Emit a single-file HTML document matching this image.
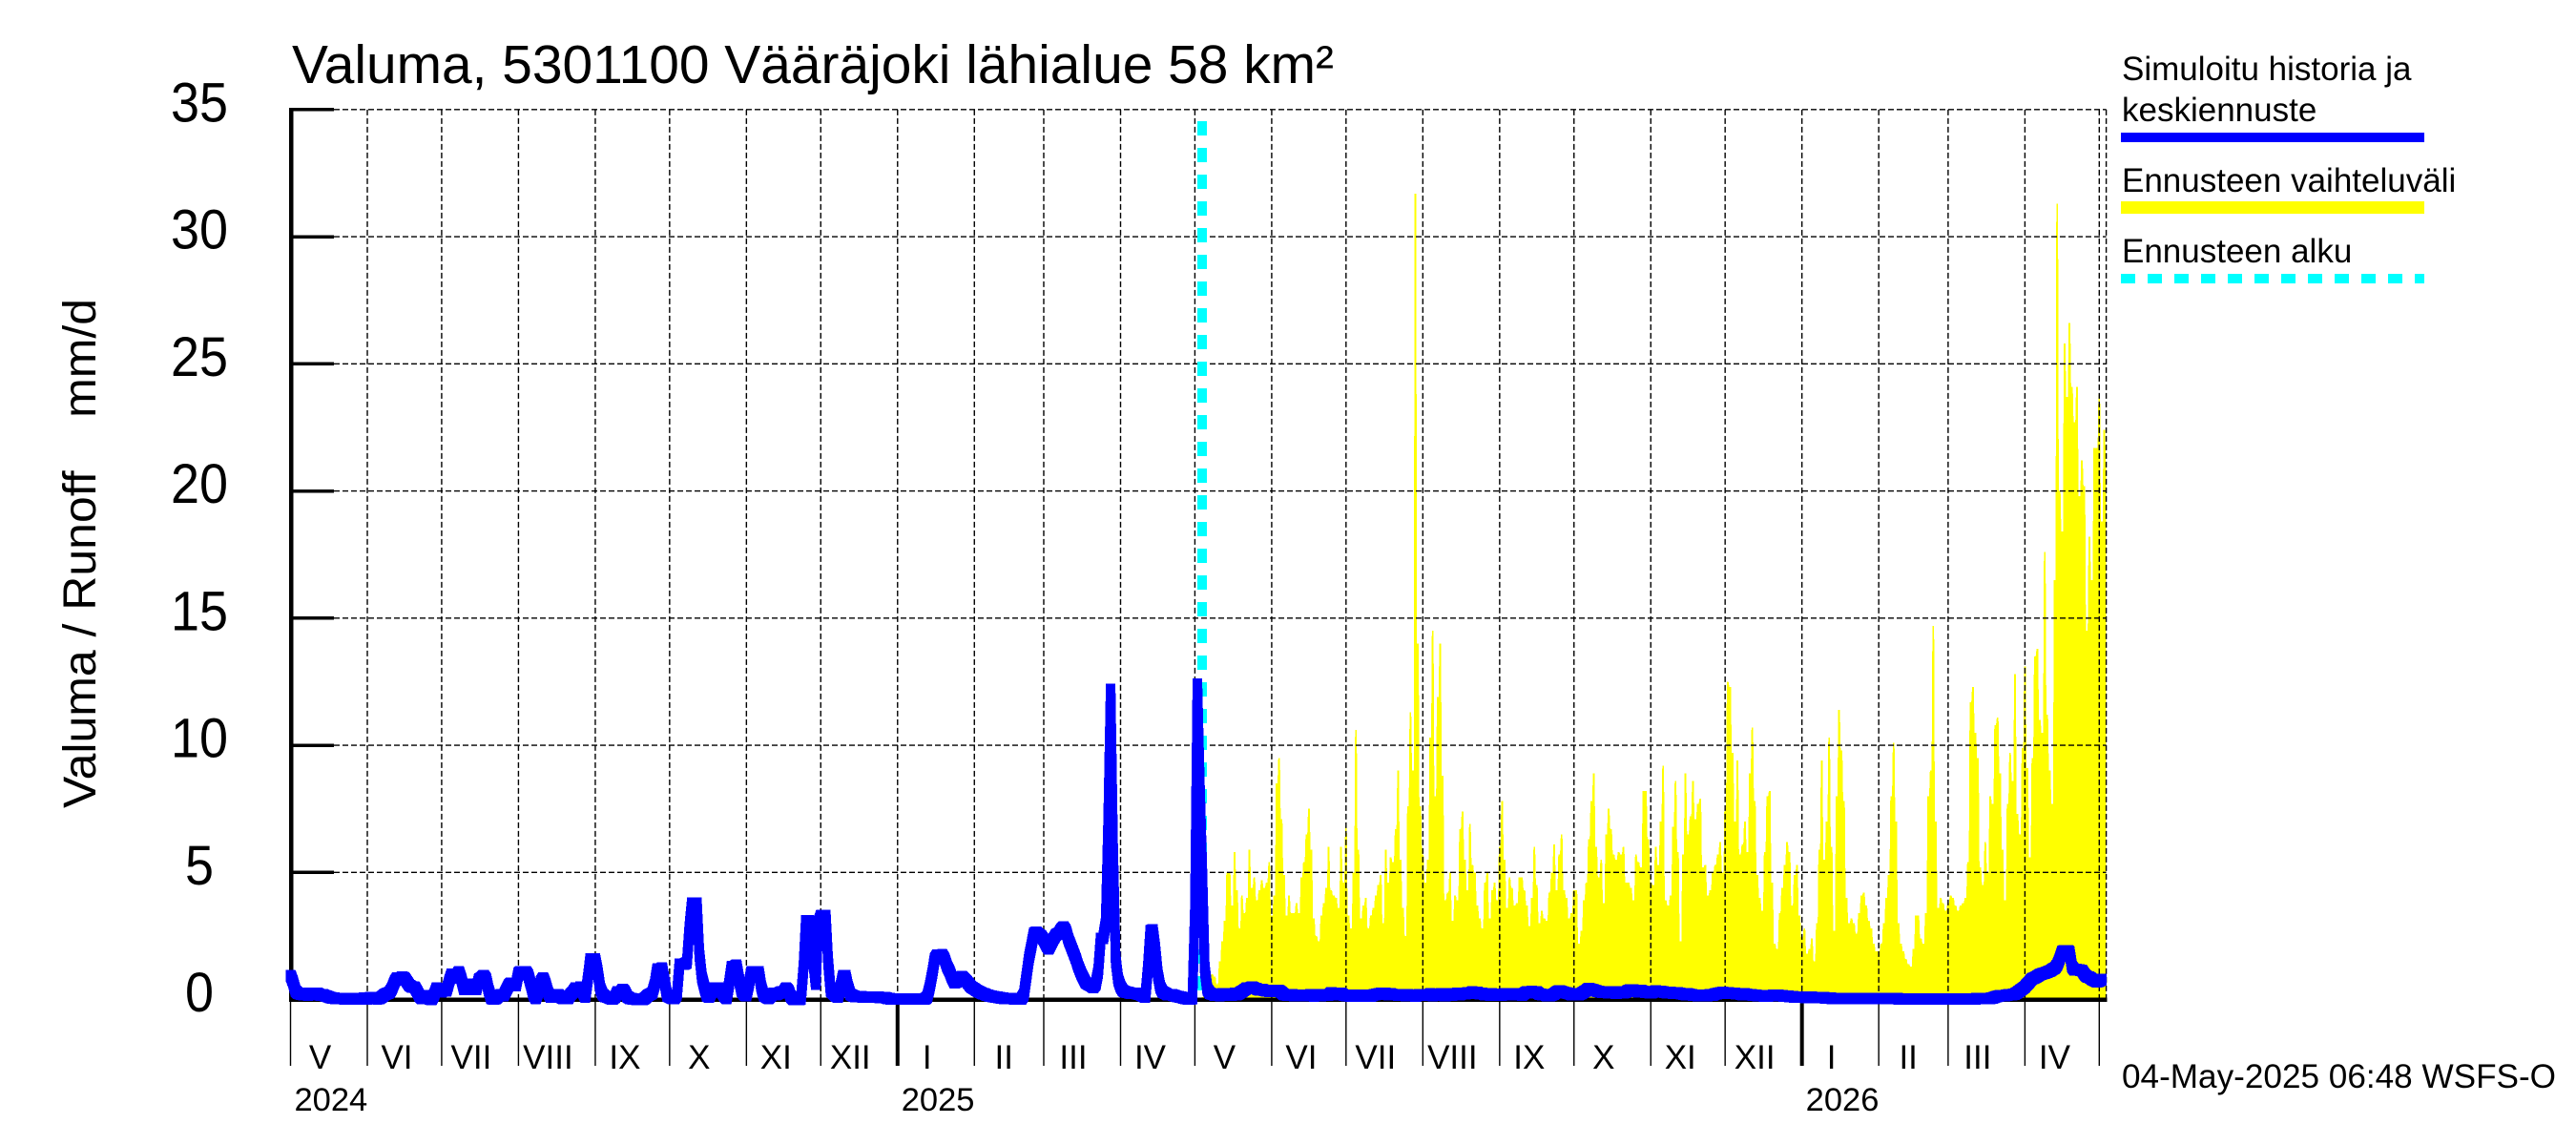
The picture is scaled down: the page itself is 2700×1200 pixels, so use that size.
<!DOCTYPE html>
<html lang="fi">
<head>
<meta charset="utf-8">
<title>Valuma, 5301100 Vääräjoki lähialue 58 km²</title>
<style>
html,body{margin:0;padding:0;background:#fff;}
svg{display:block;}
text{font-family:"Liberation Sans",Arial,sans-serif;fill:#000;white-space:pre;}
</style>
</head>
<body>
<svg id="chart" xmlns="http://www.w3.org/2000/svg" width="2700" height="1200" viewBox="0 0 2700 1200">
  <rect x="0" y="0" width="2700" height="1200" fill="#fff"/>
  <g id="yellow-layer"></g>
  <g id="grid-layer"></g>
  <g id="axis-layer"></g>
  <g id="cyan-layer"></g>
  <g id="blue-layer"></g>

  <text x="306" y="87" font-size="56.5" textLength="1092" lengthAdjust="spacingAndGlyphs">Valuma, 5301100 Vääräjoki lähialue 58 km²</text>
  <text transform="translate(100,847) rotate(-90)" x="0" y="0" font-size="48" textLength="534" lengthAdjust="spacingAndGlyphs">Valuma / Runoff    mm/d</text>

  <g>
    <text x="2224" y="84" font-size="35">Simuloitu historia ja</text>
    <text x="2224" y="127" font-size="35">keskiennuste</text>
    <rect x="2223" y="139" width="318" height="10" fill="#0000ff"/>
    <text x="2224" y="201" font-size="35">Ennusteen vaihteluväli</text>
    <rect x="2223" y="211" width="318" height="13" fill="#ffff00"/>
    <text x="2224" y="275" font-size="35">Ennusteen alku</text>
    <line x1="2223" y1="292" x2="2541" y2="292" stroke="#00ffff" stroke-width="10" stroke-dasharray="15 13"/>
  </g>

  <text x="2224" y="1140" font-size="35" textLength="455" lengthAdjust="spacingAndGlyphs">04-May-2025 06:48 WSFS-O</text>
</svg>

<script>
const yTickLabels = [0, 5, 10, 15, 20, 25, 30, 35];
const monthLabels = ["V","VI","VII","VIII","IX","X","XI","XII","I","II","III","IV","V","VI","VII","VIII","IX","X","XI","XII","I","II","III","IV"];
const monthLengths = [31,30,31,31,30,31,30,31,31,28,31,30,31,30,31,31,30,31,30,31,31,28,31,30];
const yearLabels = ["2024","2025","2026"];
const yearStartMonths = [0, 8, 20];
const forecastStartDay = 368;

// Simulated history, one value per day from 1 May 2024 (mm/d)
const historyRunoff = [
.95,.7,.35,.25,.22,.2,.24,.18,.22,.25,
.2,.24,.18,.2,.15,.12,.08,.06,.05,.05,
.04,.05,.02,.03,.02,.05,.02,.03,.05,.04,
.06,.03,.07,.05,.08,.03,.05,.12,.2,.24,
.28,.45,.7,.85,.82,.88,.85,.7,.55,.5,
.5,.35,.15,.05,.15,.12,.03,0,.2,.45,
.4,.3,.4,.35,.7,1.0,.85,.95,1.1,.8,
.4,.55,.6,.5,.4,.4,.8,.85,.95,.8,
.35,.05,.02,.05,.15,.2,.15,.35,.55,.65,
.65,.55,1.05,1.1,1.1,1.1,.95,.6,.2,.05,
.3,.7,.85,.6,.25,.1,.1,.2,.2,.1,
.05,.08,.05,.2,.3,.45,.3,.5,.3,.1,
.8,1.6,1.6,1.6,1.1,.45,.2,.12,.1,.05,
.02,.1,.3,.25,.4,.3,.1,.05,.03,.02,
0,.02,0,.05,.15,.2,.25,.6,1.2,1.15,
1.25,.7,.15,.1,.05,.05,.2,1.4,1.4,1.4,
1.45,2.8,3.8,3.8,3.8,1.8,.9,.5,.15,.1,
.3,.45,.35,.45,.3,.15,.05,.6,1.3,1.3,
1.35,.8,.35,.2,.15,.6,1.1,1.1,1.1,1.1,
.5,.15,.1,.05,.15,.25,.2,.25,.3,.3,
.45,.35,.1,0,0,0,.02,1.2,3.1,3.1,
3.05,1.5,.6,3.0,3.3,3.3,3.3,1.5,.35,.25,
.15,.1,.5,.95,.95,.5,.2,.15,.12,.12,
.12,.1,.1,.1,.1,.1,.1,.1,.08,.08,
.08,.05,.03,.02,.02,.02,.02,.02,.02,.02,
.02,.02,.02,.02,.02,.02,.02,.1,.5,1.0,
1.6,1.75,1.7,1.76,1.6,1.3,1.1,.85,.66,.7,
.85,.9,.8,.7,.58,.48,.42,.35,.3,.25,
.22,.18,.15,.13,.11,.1,.08,.06,.05,.05,
.04,.04,.03,.03,.03,.03,.2,.9,1.6,2.1,
2.6,2.65,2.55,2.5,2.35,2.15,2.0,2.2,2.4,2.55,
2.6,2.75,2.85,2.7,2.35,2.1,1.85,1.6,1.3,1.05,
.85,.66,.6,.55,.48,.6,1.1,2.4,2.4,3.0,
7,12.2,6,1.6,.8,.5,.35,.3,.28,.25,
.25,.25,.22,.2,.15,.1,1.2,2.7,2.75,2.0,
1.0,.5,.3,.25,.2,.2,.18,.15,.12,.1,
.08,.05,.03,.02,.05,3.5,12.4,8.4
];

// Mean forecast, one value per day from the forecast start (mm/d)
const forecastMean = [
5,1.2,.4,.25,.22,.18,.2,.16,.22,.2,
.17,.22,.18,.24,.2,.26,.32,.38,.45,.44,
.5,.45,.42,.38,.4,.36,.34,.33,.36,.32,
.36,.35,.28,.2,.18,.17,.2,.16,.18,.17,
.16,.18,.15,.17,.2,.14,.17,.2,.16,.18,
.2,.18,.26,.25,.22,.2,.24,.18,.16,.15,
.14,.17,.13,.16,.14,.17,.15,.18,.14,.18,
.2,.22,.24,.22,.24,.2,.22,.19,.2,.18,
.18,.2,.16,.19,.15,.18,.14,.17,.2,.19,
.2,.18,.22,.16,.2,.17,.22,.18,.15,.2,
.22,.18,.21,.25,.2,.24,.22,.27,.25,.3,
.26,.28,.22,.24,.2,.22,.18,.22,.2,.17,
.21,.18,.22,.2,.19,.22,.2,.2,.22,.18,
.25,.3,.28,.32,.26,.3,.22,.2,.2,.16,
.15,.18,.22,.3,.34,.32,.28,.26,.24,.2,
.22,.2,.2,.24,.3,.36,.44,.4,.38,.34,
.32,.3,.28,.3,.26,.28,.3,.24,.28,.3,
.26,.3,.36,.38,.38,.34,.3,.36,.32,.28,
.28,.26,.3,.34,.3,.32,.3,.28,.26,.28,
.25,.24,.26,.24,.22,.2,.22,.2,.18,.17,
.16,.15,.17,.18,.16,.2,.18,.22,.24,.26,
.28,.26,.27,.25,.24,.24,.23,.22,.2,.22,
.2,.2,.18,.18,.16,.15,.15,.14,.14,.15,
.16,.17,.17,.16,.15,.14,.14,.12,.12,.1,
.1,.09,.09,.09,.08,.08,.09,.08,.08,.08,
.07,.07,.06,.06,.05,.05,.05,.05,.05,.05,
.05,.04,.04,.04,.04,.04,.04,.04,.04,.04,
.04,.04,.04,.04,.04,.04,.04,.04,.04,.04,
.04,.03,.03,.03,.03,.03,.03,.03,.03,.03,
.03,.03,.02,.02,.02,.02,.02,.02,.03,.03,
.03,.03,.03,.03,.02,.02,.02,.02,.03,.03,
.03,.03,.03,.04,.04,.04,.05,.05,.05,.06,
.1,.13,.15,.15,.16,.18,.2,.2,.22,.28,
.36,.42,.5,.62,.72,.82,.86,.92,.98,1.02,
1.04,1.08,1.12,1.18,1.24,1.35,1.6,1.9,1.92,1.92,
1.9,1.3,1.16,1.18,1.16,1.15,1.0,.9,.88,.8,
.75,.7,.72,.8
];

// Upper edge of the forecast range, one value per day from the forecast start (mm/d)
const forecastUpper = [
.1,.3,.6,.9,1.0,.9,.6,1.5,2.3,3.1,
5.0,5.0,3.7,5.8,4.3,2.8,4.1,3.4,4.0,5.9,
4.4,4.8,3.9,4.3,4.7,4.4,4.6,5.4,3.3,4.1,
8.5,9.5,7.1,4.9,3.3,4.1,3.4,3.4,3.8,3.4,
4.8,5.4,6.5,7.5,5.9,3.2,2.5,2.3,3.3,3.8,
4.4,6.0,4.3,4.1,4.0,3.6,6.0,4.6,6.8,3.3,
2.8,5.0,10.6,5.9,3.2,3.7,4.0,2.8,3.3,3.6,
4.1,4.5,4.9,3.0,5.9,4.6,5.6,5.4,6.7,9.0,
5.5,3.6,2.5,7.6,11.3,9.0,31.7,14.0,7.6,5.7,
4.6,5.5,10.3,14.5,8.0,11.9,14.0,8.8,3.9,4.2,
5.0,3.1,4.1,3.9,6.7,7.4,5.5,4.3,6.9,5.3,
5.0,3.7,3.2,2.8,4.6,5.0,3.2,4.3,4.6,3.9,
6.0,7.8,5.5,3.6,4.8,4.4,3.7,3.8,4.8,4.8,
4.3,3.7,2.9,4.0,6.0,4.5,3.0,3.5,3.2,3.1,
4.2,5.0,6.1,4.3,5.7,6.5,4.3,4.0,3.2,3.4,
4.3,4.3,2.2,2.7,3.9,4.6,6.3,7.8,8.9,6.0,
4.8,5.5,3.8,6.5,7.5,6.7,5.7,5.5,5.8,5.7,
6.0,4.6,4.6,4.4,3.9,5.7,5.4,5.2,8.2,8.2,
6.3,4.6,4.5,6.0,5.3,7.0,9.2,3.9,3.7,4.1,
6.8,8.6,5.8,2.3,5.7,8.9,6.5,7.2,8.6,7.1,
7.7,7.9,5.2,5.3,4.1,4.3,5.0,5.3,5.7,6.2,
5.0,7.5,12.5,12.3,9.7,7.0,9.4,5.7,6.1,7.0,
5.8,8.9,10.7,7.8,4.9,4.0,3.5,5.8,8.0,8.2,
4.6,2.2,2.0,3.4,4.4,5.3,6.2,5.8,3.7,4.9,
5.3,3.3,2.4,2.8,1.8,2.0,2.4,1.5,3.0,5.9,
9.4,5.5,7.0,10.3,6.0,2.7,8.0,11.4,9.8,7.8,
4.0,3.0,3.2,3.0,2.6,3.4,4.1,4.2,3.7,3.1,
2.8,2.2,1.9,1.9,2.2,3.0,4.0,4.9,8.0,10.1,
7.0,3.0,2.2,1.9,1.6,1.4,1.3,2.0,3.3,3.3,
2.4,2.2,3.4,8.0,9.0,14.7,7.0,3.6,4.0,3.8,
3.5,3.8,4.1,4.0,3.7,3.5,3.7,3.8,4.0,5.4,
11.7,12.3,10.5,9.5,5.2,4.5,6.2,5.0,8.0,7.7,
10.8,11.1,8.9,5.9,3.9,7.7,9.7,8.6,12.8,7.3,
6.5,9.9,13.1,9.1,5.6,9.5,13.5,13.8,11.0,10.5,
17.6,11.2,9.0,7.7,16.5,31.3,20.0,18.4,25.8,23.7,
26.6,24.1,22.7,24.1,19.8,21.2,20.2,14.5,18.2,16.5,
21.7,21.7,23.8,18.8,22.4,21.0
];

const SVG_NS = 'http://www.w3.org/2000/svg';
const PLOT_LEFT = 304.5, DAY_PX = 2.597, PLOT_RIGHT = 2207.6;
const Y_ZERO = 1047.6, UNIT_PX = 26.65;
const GRID_WIDTH = 1.4, GRID_DASH = '6 3';
const xDay = d => PLOT_LEFT + d * DAY_PX;
const yVal = v => Y_ZERO - v * UNIT_PX;

function make(parent, tag, attrs, text) {
  const el = document.createElementNS(SVG_NS, tag);
  for (const k in attrs) el.setAttribute(k, attrs[k]);
  if (text !== undefined) el.textContent = text;
  parent.appendChild(el);
  return el;
}

const gridLayer = document.getElementById('grid-layer');
const axisLayer = document.getElementById('axis-layer');
const yellowLayer = document.getElementById('yellow-layer');
const cyanLayer = document.getElementById('cyan-layer');
const blueLayer = document.getElementById('blue-layer');
const yTop = yVal(yTickLabels[yTickLabels.length - 1]);

// forecast range band: each daily value holds a short plateau so the tips keep some width
const BAND_HOLD = 0.9;
const upperPts = [];
forecastUpper.forEach((v, i) => {
  const x = xDay(forecastStartDay + i), y = yVal(v).toFixed(1);
  upperPts.push((x - BAND_HOLD).toFixed(1) + ',' + y);
  upperPts.push(Math.min(x + BAND_HOLD, PLOT_RIGHT).toFixed(1) + ',' + y);
});
upperPts.push(PLOT_RIGHT + ',' + yVal(forecastUpper[forecastUpper.length - 1]).toFixed(1));
const band = make(yellowLayer, 'polygon', {
  points: xDay(forecastStartDay).toFixed(1) + ',' + yVal(0) + ' ' + upperPts.join(' ') + ' ' + PLOT_RIGHT + ',' + yVal(0),
  fill: '#ffff00',
  'shape-rendering': 'crispEdges'
});



// horizontal grid, ticks and labels
yTickLabels.forEach(v => {
  const y = yVal(v);
  if (v > 0) {
    const g = make(gridLayer, 'line', {x1: 350, y1: y, x2: PLOT_RIGHT, y2: y, stroke: '#000', 'stroke-width': GRID_WIDTH, 'stroke-dasharray': GRID_DASH});
    
    
    const t = make(axisLayer, 'line', {x1: 305, y1: y, x2: 350, y2: y, stroke: '#000', 'stroke-width': 3.5, 'shape-rendering': 'crispEdges'});
    
    
  }
  const label = make(axisLayer, 'text', {x: 209, y: y + 12.5, 'font-size': 58, 'text-anchor': 'middle', textLength: String(v).length * 30, lengthAdjust: 'spacingAndGlyphs'}, String(v));
  
  
});

// right border of the plot
const rightBorder = make(gridLayer, 'line', {x1: PLOT_RIGHT, y1: yTop, x2: PLOT_RIGHT, y2: Y_ZERO, stroke: '#000', 'stroke-width': GRID_WIDTH, 'stroke-dasharray': GRID_DASH});



// month grid, ticks and labels
let dayCursor = 0;
const monthStarts = [];
monthLabels.forEach((name, m) => {
  const x = xDay(dayCursor);
  monthStarts.push(dayCursor);
  if (m > 0) {
    const g = make(gridLayer, 'line', {x1: x, y1: yTop, x2: x, y2: Y_ZERO, stroke: '#000', 'stroke-width': GRID_WIDTH, 'stroke-dasharray': GRID_DASH});
    
    
  }
  const isYearStart = yearStartMonths.indexOf(m) > 0;
  const tick = make(axisLayer, 'line', {x1: x, y1: Y_ZERO, x2: x, y2: 1117, stroke: '#000', 'stroke-width': isYearStart ? 4 : 1.4});
  
  
  const label = make(axisLayer, 'text', {x: x + 31, y: 1120, 'font-size': 35, 'text-anchor': 'middle'}, name);
  
  
  dayCursor += monthLengths[m];
});
const monthEndGrid = make(gridLayer, 'line', {x1: xDay(dayCursor), y1: yTop, x2: xDay(dayCursor), y2: Y_ZERO, stroke: '#000', 'stroke-width': GRID_WIDTH, 'stroke-dasharray': GRID_DASH});


const monthEndTick = make(axisLayer, 'line', {x1: xDay(dayCursor), y1: Y_ZERO, x2: xDay(dayCursor), y2: 1117, stroke: '#000', 'stroke-width': 1.4});



// year labels
yearLabels.forEach((name, i) => {
  const label = make(axisLayer, 'text', {x: xDay(monthStarts[yearStartMonths[i]]) + 4, y: 1164, 'font-size': 34.5}, name);
  
  
});

// axes
const yAxis = make(axisLayer, 'line', {x1: 305, y1: yTop - 2, x2: 305, y2: Y_ZERO + 2.5, stroke: '#000', 'stroke-width': 4.5, 'shape-rendering': 'crispEdges'});


const xAxis = make(axisLayer, 'line', {x1: 303, y1: Y_ZERO, x2: PLOT_RIGHT + 1, y2: Y_ZERO, stroke: '#000', 'stroke-width': 4.5, 'shape-rendering': 'crispEdges'});



// forecast start marker
const startLine = make(cyanLayer, 'line', {x1: xDay(forecastStartDay), y1: 127, x2: xDay(forecastStartDay), y2: Y_ZERO, stroke: '#00ffff', 'stroke-width': 10, 'stroke-dasharray': '15 13', 'shape-rendering': 'crispEdges'});



// runoff line, drawn with a square pen
const runoffSeries = historyRunoff.concat(forecastMean);
const PEN_X = 5, PEN_Y = 6;
let penPath = '';
for (let d = 0; d < runoffSeries.length - 1; d++) {
  const x1 = xDay(d), y1 = yVal(runoffSeries[d]), x2 = xDay(d + 1), y2 = yVal(runoffSeries[d + 1]);
  const pts = y2 <= y1
    ? [[x1-PEN_X,y1-PEN_Y],[x2-PEN_X,y2-PEN_Y],[x2+PEN_X,y2-PEN_Y],[x2+PEN_X,y2+PEN_Y],[x1+PEN_X,y1+PEN_Y],[x1-PEN_X,y1+PEN_Y]]
    : [[x1-PEN_X,y1-PEN_Y],[x1+PEN_X,y1-PEN_Y],[x2+PEN_X,y2-PEN_Y],[x2+PEN_X,y2+PEN_Y],[x2-PEN_X,y2+PEN_Y],[x1-PEN_X,y1+PEN_Y]];
  penPath += 'M' + pts.map(p => p[0].toFixed(1) + ' ' + p[1].toFixed(1)).join('L') + 'Z';
}
const runoffLine = make(blueLayer, 'path', {d: penPath, fill: '#0000ff', 'fill-rule': 'nonzero', 'shape-rendering': 'crispEdges'});


</script>
</body>
</html>
